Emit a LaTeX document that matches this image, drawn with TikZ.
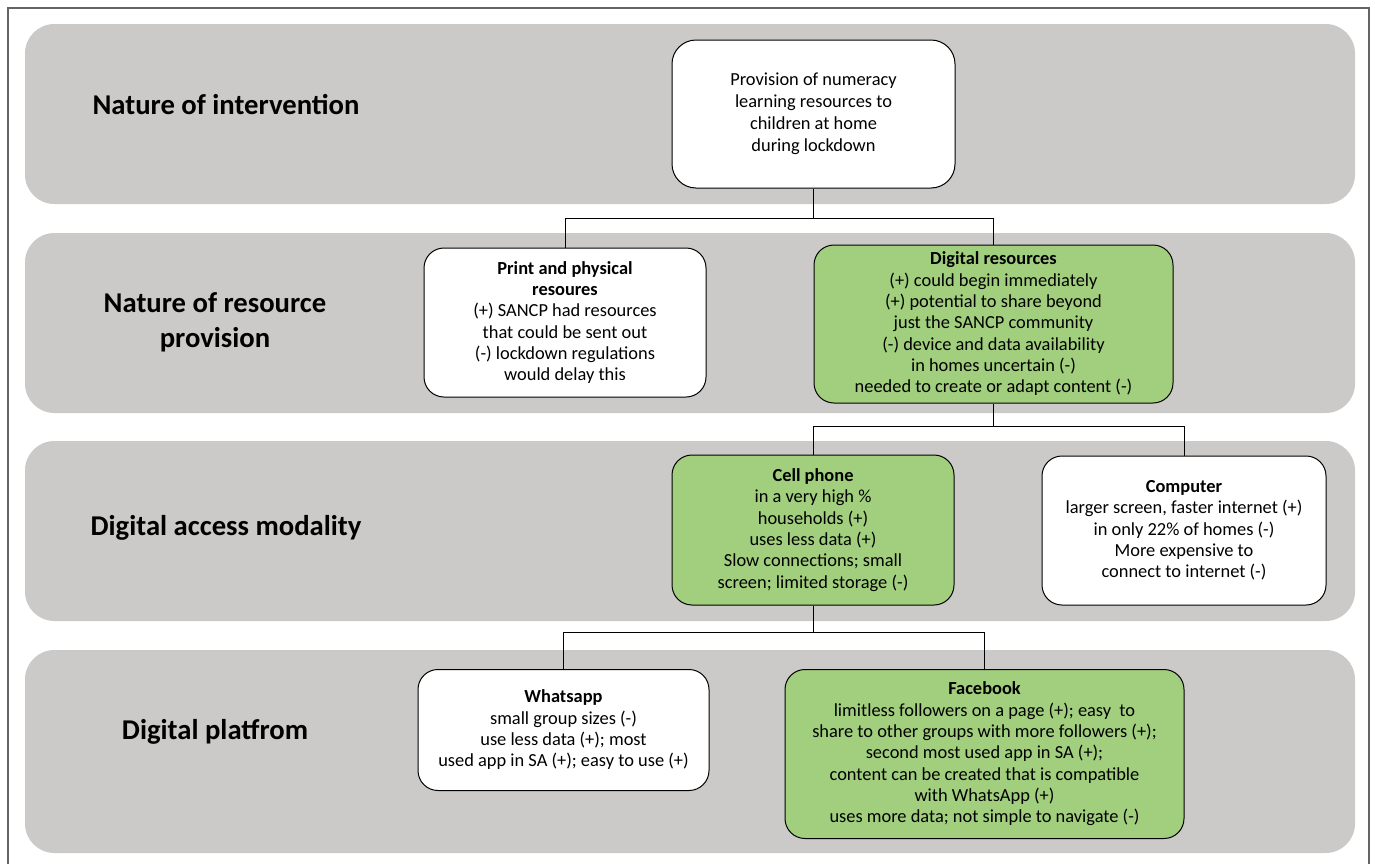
\documentclass[tikz,border=0pt]{standalone}
\usepackage{fontspec}
\setmainfont{Carlito}

\definecolor{bandgray}{RGB}{203,202,200}
\definecolor{boxgreen}{RGB}{161,207,125}
\definecolor{framegray}{RGB}{100,100,100}

\tikzset{
  band/.style={fill=bandgray,rounded corners=22pt},
  rowlabel/.style={font=\fontsize{21.5}{26}\selectfont\bfseries,align=center},
  item/.style={draw=black,line width=0.75pt,rounded corners=15pt,align=center,
    inner sep=0pt,font=\fontsize{13.8}{16}\selectfont},
  plainbox/.style={item,fill=white},
  greenbox/.style={item,fill=boxgreen},
  link/.style={draw=black,line width=0.75pt}
}

\begin{document}
\begin{tikzpicture}[x=0.75pt,y=-0.75pt]
  \useasboundingbox (0,0) rectangle (1375,864);

  %% Frame
  \draw[framegray,line width=0.9pt] (8,864) -- (8,8) -- (1369,8) -- (1369,864);

  %% Bands
  \fill[band] (25,24) rectangle (1355,204);
  \fill[band] (25,233) rectangle (1355,413);
  \fill[band] (25,441) rectangle (1355,621);
  \fill[band] (25,650) rectangle (1355,853);

  \node [rowlabel] (lblint) at (226,105) {Nature of intervention};
  \node [rowlabel] (lblres) at (215,322) {Nature of resource\\provision};
  \node [rowlabel] (lblacc) at (226,528) {Digital access modality};
  \node [rowlabel] (lblplat) at (215,732) {Digital platfrom};

  %% Boxes
  \node [plainbox,rounded corners=18pt,font=\fontsize{13.8}{16.5}\selectfont,
    minimum width=212.25pt,minimum height=111pt] (prov) at (813.5,114)
    {Provision of numeracy\\learning resources to\\children at home\\during lockdown};

  \node [plainbox,minimum width=211.5pt,minimum height=111.75pt] (print) at (565,322.5)
    {\textbf{Print and physical}\\\textbf{resoures}\\(+) SANCP had resources\\that could be sent out\\(-) lockdown regulations\\would delay this};
  \node [greenbox,minimum width=269.25pt,minimum height=118.5pt] (digi) at (993.5,324)
    {\textbf{Digital resources}\\(+) could begin immediately\\(+) potential to share beyond\\just the SANCP community\\(-) device and data availability\\in homes uncertain (-)\\needed to create or adapt content (-)};

  \node [greenbox,minimum width=211.5pt,minimum height=112.5pt] (cell) at (813,530)
    {\textbf{Cell phone}\\in a very high \%\\households (+)\\uses less data (+)\\Slow connections; small\\screen; limited storage (-)};
  \node [plainbox,minimum width=213pt,minimum height=111.75pt] (comp) at (1184,530.5)
    {\textbf{Computer}\\larger screen, faster internet (+)\\in only 22\% of homes (-)\\More expensive to\\connect to internet (-)};

  \node [plainbox,minimum width=218.25pt,minimum height=90.75pt] (whats) at (563.5,730)
    {\textbf{Whatsapp}\\small group sizes (-)\\use less data (+); most\\used app in SA (+); easy to use (+)};
  \node [greenbox,minimum width=299.25pt,minimum height=126.75pt] (fb) at (984.5,754)
    {\textbf{Facebook}\\limitless followers on a page (+); easy~ to\\share to other groups with more followers (+);\\second most used app in SA (+);\\content can be created that is compatible\\with WhatsApp (+)\\uses more data; not simple to navigate (-)};

  %% Connectors
  \coordinate (j1) at (813.5,218);
  \draw[link] (prov.south) -- (j1) -| (print.north);
  \draw[link] (j1) -| (digi.north);

  \coordinate (j2) at (993.5,426);
  \draw[link] (digi.south) -- (j2) -| (cell.north);
  \draw[link] (j2) -| (comp.north);

  \coordinate (j3) at (813,632);
  \draw[link] (cell.south) -- (j3) -| (whats.north);
  \draw[link] (j3) -| (fb.north);

\end{tikzpicture}
\end{document}
